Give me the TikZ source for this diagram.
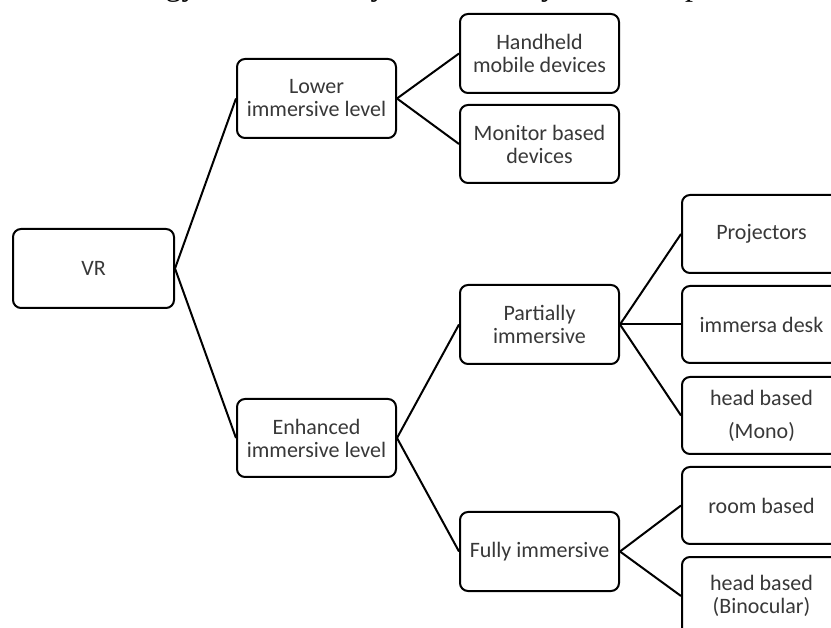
\documentclass[tikz,border=0pt]{standalone}
\usepackage{fontspec}
\setmainfont{Liberation Serif}
\newfontfamily\boxfont{Carlito}
\definecolor{boxtext}{HTML}{383838}
\tikzset{
  tbox/.style={draw=black, line width=2pt, rounded corners=8pt, fill=white,
    minimum width=159pt, minimum height=79pt, inner sep=2pt,
    align=center, text=boxtext, font=\boxfont\fontsize{22}{23}\selectfont},
  link/.style={draw=black, line width=2pt}
}
\begin{document}
\begin{tikzpicture}[x=1pt,y=-1pt]
\useasboundingbox (0,0) rectangle (831,628);
\clip (0,0) rectangle (831,628);
\fill[white] (0,0) rectangle (831,628);
% clipped running text above the figure
\node[anchor=base west, inner sep=0pt, font=\fontsize{32}{34}\selectfont] (cap) at (8,-4)
  {the technology, the taxonomy of the VR system is depicted in Figure};
% nodes
\node[tbox, minimum width=161pt] (vr) at (93.5,268.5) {VR};
\node[tbox] (low) at (316.5,98.5) {Lower\\immersive level};
\node[tbox] (hand) at (539.5,53.5) {Handheld\\mobile devices};
\node[tbox, minimum height=78pt] (mon) at (539.5,144) {Monitor based\\devices};
\node[tbox, minimum height=78pt] (enh) at (316.5,438) {Enhanced\\immersive level};
\node[tbox] (part) at (539.5,324.5) {Partially\\immersive};
\node[tbox] (full) at (539.5,551.5) {Fully immersive};
\node[tbox, minimum height=78pt] (proj) at (761.5,234) {Projectors};
\node[tbox, minimum height=77pt] (desk) at (761.5,324.5) {immersa desk};
\node[tbox, minimum height=77pt] (mono) at (761.5,415.5) {head based\\[10pt](Mono)};
\node[tbox, minimum height=77pt] (room) at (761.5,505.5) {room based};
\node[tbox, minimum height=78pt] (bino) at (761.5,596) {head based\\(Binocular)};
% connectors
\draw[link] (vr.east) -- (low.west);
\draw[link] (vr.east) -- (enh.west);
\draw[link] (low.east) -- (hand.west);
\draw[link] (low.east) -- (mon.west);
\draw[link] (enh.east) -- (part.west);
\draw[link] (enh.east) -- (full.west);
\draw[link] (part.east) -- (proj.west);
\draw[link] (part.east) -- (desk.west);
\draw[link] (part.east) -- (mono.west);
\draw[link] (full.east) -- (room.west);
\draw[link] (full.east) -- (bino.west);
\end{tikzpicture}
\end{document}
